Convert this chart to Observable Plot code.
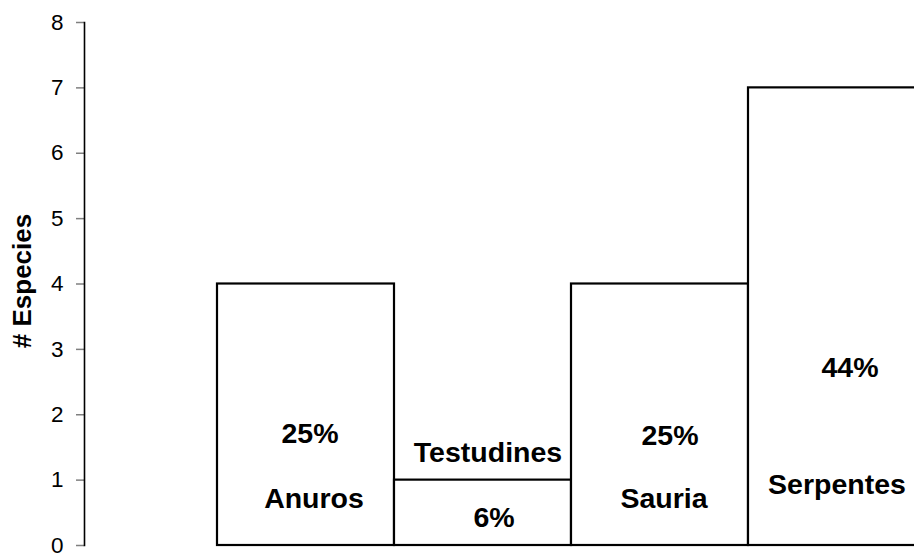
<!DOCTYPE html>
<html>
<head>
<meta charset="utf-8">
<script src="https://cdn.jsdelivr.net/npm/d3@7"></script>
<script src="https://cdn.jsdelivr.net/npm/@observablehq/plot@0.6"></script>
<style>
  html, body { margin: 0; padding: 0; background: white; }
  #chart { width: 914px; height: 553px; overflow: hidden; }
</style>
</head>
<body>
<div id="chart"></div>
<script>
// Data
const categories = ["Anuros", "Testudines", "Sauria", "Serpentes"];
const species = [4, 1, 4, 7];
const percents = ["25%", "6%", "25%", "44%"];
const yTicks = [0, 1, 2, 3, 4, 5, 6, 7, 8];
const yLabel = "# Especies";

// Annotation placement (data units on the y scale) for the name and percentage labels
const nameY = [0.72, 1.41, 0.72, 0.92];
const pctY = [1.70, 0.43, 1.68, 2.71];
const nameDx = [8, 5, 4, 0];
const pctDx = [4, 11, 10, 13];

const bars = categories.map((c, i) => ({category: c, value: species[i]}));
const labels = categories.flatMap((c, i) => [
  {category: c, text: c, y: nameY[i], dx: nameDx[i]},
  {category: c, text: percents[i], y: pctY[i], dx: pctDx[i]}
]);

const font = "'Liberation Sans', Arial, sans-serif";

const chart = Plot.plot({
  width: 914,
  height: 553,
  marginLeft: 84,
  marginRight: 0,
  marginTop: 22,
  marginBottom: 8,
  style: {fontFamily: font, background: "white", color: "black"},
  x: {type: "band", domain: categories, range: [217, 925], padding: 0, axis: null},
  y: {domain: [0, 8], axis: null},
  marks: [
    Plot.barY(bars, {x: "category", y: "value", fill: "white", stroke: "black", strokeWidth: 2.2, insetLeft: 0, insetRight: 0}),
    Plot.axisY({ticks: yTicks, tickSize: 8, stroke: "#7f7f7f", strokeWidth: 1.5, tickPadding: 13, fontSize: 22.5, fill: "black", label: null, tickFormat: d => String(d)}),
    Plot.frame({anchor: "left", stroke: "black", strokeWidth: 1.6}),
    Plot.text([yLabel], {frameAnchor: "left", textAnchor: "middle", rotate: -90, dx: -62, dy: -3, fontSize: 26, fontWeight: "bold", fill: "black"}),
    ...labels.map(l => Plot.text([l], {x: "category", y: "y", text: "text", dx: l.dx, fontSize: 28.5, fontWeight: "bold", fill: "black"}))
  ]
});
document.getElementById("chart").appendChild(chart);
</script>
</body>
</html>
